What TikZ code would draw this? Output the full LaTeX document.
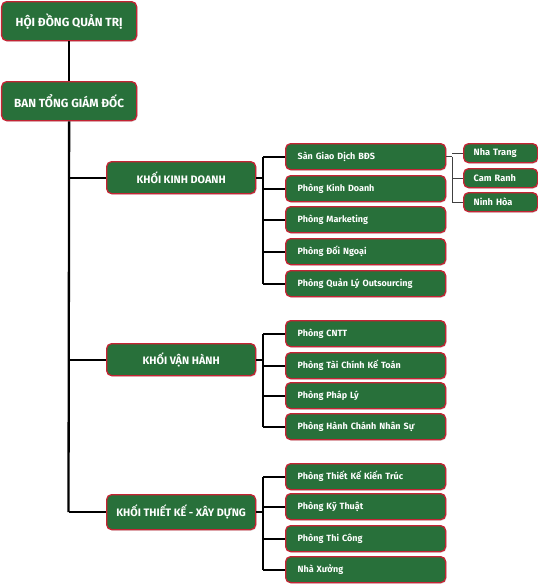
\documentclass[tikz,border=0pt]{standalone}
\usepackage{fontspec}
\setmainfont{Fira Sans}
\usetikzlibrary{shadows}
\definecolor{boxgreen}{RGB}{40,112,58}
\definecolor{boxred}{RGB}{196,36,52}
\tikzset{
  box/.style={draw=boxred, line width=1.3pt, fill=boxgreen, rounded corners=5pt,
    text=white, font=\bfseries, anchor=north west, inner sep=0pt,
    drop shadow={opacity=0.25, shadow xshift=1pt, shadow yshift=-1pt}},
  topbox/.style={box, minimum width=135pt, minimum height=39pt, font=\fontsize{11.8}{14}\selectfont\bfseries},
  khoibox/.style={box, minimum width=149pt, minimum height=32pt, font=\fontsize{10.8}{12}\selectfont\bfseries},
  subbox/.style={box, text width=136pt, inner xsep=12pt, minimum height=26pt, align=left, font=\fontsize{9}{11}\selectfont\bfseries},
  tinybox/.style={box, text width=54pt, inner xsep=10pt, minimum height=19pt, align=left, font=\fontsize{9.2}{11}\selectfont\bfseries},
  trunk/.style={line width=2.3pt, black},
  link/.style={line width=1.8pt, black},
  thin/.style={line width=1pt, black!75}
}
\begin{document}
\begin{tikzpicture}[x=1pt,y=-1pt]
\useasboundingbox (0,0) rectangle (538,584);
% top
\node[topbox] (hd) at (1,1) {HỘI ĐỒNG QUẢN TRỊ};
\node[topbox] (bt) at (1,81) {BAN TỔNG GIÁM ĐỐC};
% khoi
\node[khoibox] (kd) at (106,161) {KHỐI KINH DOANH};
\node[khoibox] (vh) at (106,343) {KHỐI VẬN HÀNH};
\node[khoibox, minimum height=35pt] (tk) at (106,494) {KHỐI THIẾT KẾ - XÂY DỰNG};
% kinh doanh children
\node[subbox] (s1) at (285,143) {Sàn Giao Dịch BĐS};
\node[subbox] (s2) at (285,175) {Phòng Kinh Doanh};
\node[subbox] (s3) at (285,206) {Phòng Marketing};
\node[subbox] (s4) at (285,238) {Phòng Đối Ngoại};
\node[subbox] (s5) at (285,270) {Phòng Quản Lý Outsourcing};
% san children
\node[tinybox] (n1) at (463,143) {Nha Trang};
\node[tinybox] (n2) at (463,168) {Cam Ranh};
\node[tinybox] (n3) at (463,192) {Ninh Hòa};
% van hanh children
\node[subbox] (v1) at (285,320) {Phòng CNTT};
\node[subbox] (v2) at (285,352) {Phòng Tài Chính Kế Toán};
\node[subbox] (v3) at (285,382) {Phòng Pháp Lý};
\node[subbox] (v4) at (285,413) {Phòng Hành Chánh Nhân Sự};
% thiet ke children
\node[subbox] (t1) at (285,463) {Phòng Thiết Kế Kiến Trúc};
\node[subbox] (t2) at (285,493) {Phòng Kỹ Thuật};
\node[subbox] (t3) at (285,525) {Phòng Thi Công};
\node[subbox] (t4) at (285,556) {Nhà Xưởng};
% connectors
\coordinate (tend) at (68.5,512);
\coordinate (bx) at (263,0);
\coordinate (sx) at (452,0);
\draw[trunk] (hd.south) -- (bt.north);
\draw[trunk] (bt.south) -- (tend);
\draw[trunk] (bt.south |- kd.west) -- (kd.west);
\draw[trunk] (bt.south |- vh.west) -- (vh.west);
\draw[trunk] (tend) -- (tend -| tk.west);
\draw[link] (kd.east) -- (kd.east -| bx);
\draw[link] (s1.west -| bx) -- (s5.west -| bx);
\foreach \c in {s1,s2,s3,s4,s5} \draw[link] (\c.west -| bx) -- (\c.west);
\draw[link] (vh.east) -- (vh.east -| bx);
\draw[link] (v1.west -| bx) -- (v4.west -| bx);
\foreach \c in {v1,v2,v3,v4} \draw[link] (\c.west -| bx) -- (\c.west);
\draw[link] (tk.east) -- (tk.east -| bx);
\draw[link] (t1.west -| bx) -- (t4.west -| bx);
\foreach \c in {t1,t2,t3,t4} \draw[link] (\c.west -| bx) -- (\c.west);
\draw[thin] (s1.east) -- (s1.east -| sx);
\draw[thin] (s1.east -| sx) -- (n3.west -| sx);
\foreach \c in {n1,n2,n3} \draw[thin] (\c.west -| sx) -- (\c.west);
\end{tikzpicture}
\end{document}
